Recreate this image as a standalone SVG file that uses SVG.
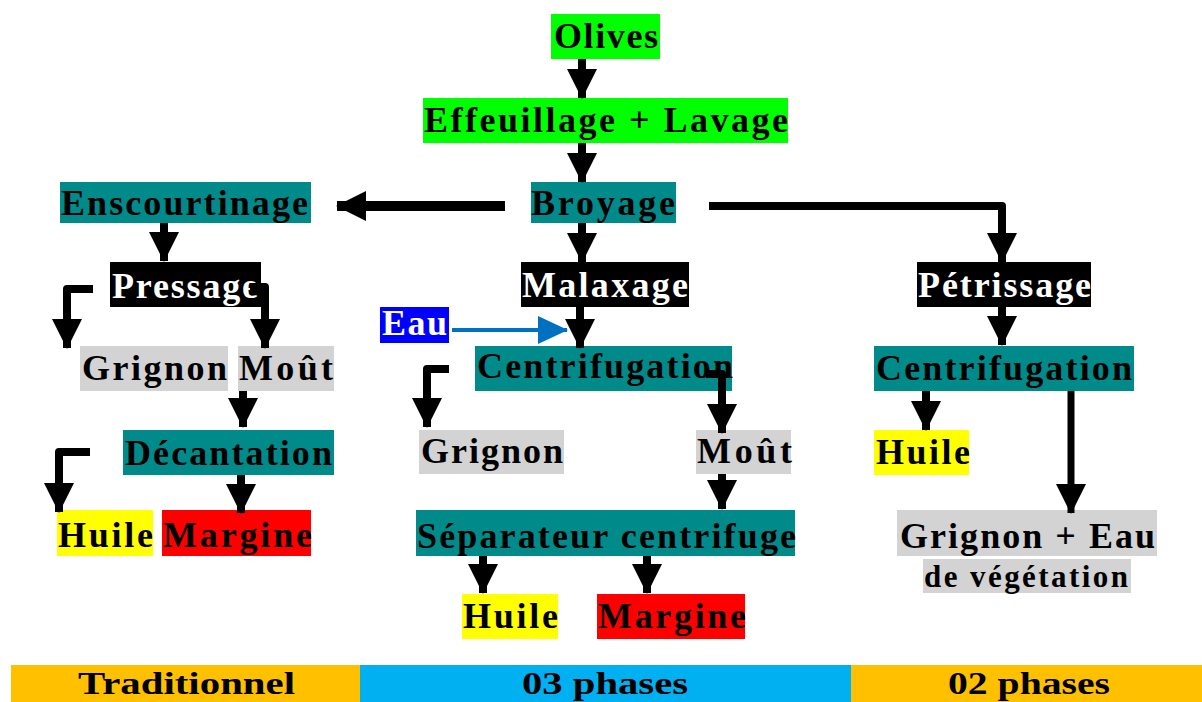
<svg xmlns="http://www.w3.org/2000/svg" width="1202" height="702" viewBox="0 0 1202 702">
<style>
text{font-family:"Liberation Serif","Times New Roman",serif;font-weight:bold;font-size:36px;fill:#000}
.w{fill:#fff}
.sm{font-size:31px}
.bar{font-size:32px}
.green{fill:#00ff00}.teal{fill:#008b8a}.blk{fill:#000}.grey{fill:#d3d3d3}.yel{fill:#ffff00}.red{fill:#ff0000}.blue{fill:#0000ff}
.c{fill:none;stroke:#000;stroke-width:8;stroke-linejoin:round}
</style>
<defs>
<marker id="ah" markerUnits="userSpaceOnUse" viewBox="0 0 30 30" markerWidth="30" markerHeight="30" refX="29" refY="15" orient="auto"><path d="M0,0 L30,15 L0,30 z" fill="#000"/></marker>
<marker id="ahb" markerUnits="userSpaceOnUse" viewBox="0 0 30 30" markerWidth="30" markerHeight="30" refX="29" refY="15" orient="auto"><path d="M0,1 L30,15 L0,29 z" fill="#0070c0"/></marker>
</defs>
<rect width="1202" height="702" fill="#fff"/>
<g id="nodes">
<g id="olives"><rect class="green" x="551" y="14" width="109" height="45"/><text x="554" y="48" textLength="104" lengthAdjust="spacing">Olives</text></g>
<g id="effeuillage"><rect class="green" x="423" y="98" width="365" height="45"/><text x="424" y="132" textLength="364" lengthAdjust="spacing">Effeuillage + Lavage</text></g>
<g id="broyage"><rect class="teal" x="531" y="182" width="145" height="41"/><text x="531" y="215" textLength="144" lengthAdjust="spacing">Broyage</text></g>
<g id="enscourtinage"><rect class="teal" x="60" y="182" width="251" height="41"/><text x="61" y="215" textLength="247" lengthAdjust="spacing">Enscourtinage</text></g>
<g id="pressage"><rect class="blk" x="110" y="262" width="151" height="45"/><text class="w" x="112" y="298" textLength="146" lengthAdjust="spacing">Pressage</text></g>
<g id="grignon1"><rect class="grey" x="80" y="346" width="148" height="45"/><text x="82" y="380" textLength="145" lengthAdjust="spacing">Grignon</text></g>
<g id="mout1"><rect class="grey" x="238" y="346" width="96" height="45"/><text x="239" y="380" textLength="94" lengthAdjust="spacing">Moût</text></g>
<g id="decantation"><rect class="teal" x="123" y="430" width="211" height="45"/><text x="125" y="465" textLength="207" lengthAdjust="spacing">Décantation</text></g>
<g id="huile1"><rect class="yel" x="57" y="510" width="96" height="46"/><text x="58" y="547" textLength="95" lengthAdjust="spacing">Huile</text></g>
<g id="margine1"><rect class="red" x="162" y="510" width="149" height="46"/><text x="163" y="547" textLength="149" lengthAdjust="spacing">Margine</text></g>
<g id="malaxage"><rect class="blk" x="521" y="262" width="168" height="45"/><text class="w" x="522" y="297" textLength="166" lengthAdjust="spacing">Malaxage</text></g>
<g id="eau"><rect class="blue" x="380" y="307" width="69" height="36"/><text class="w" x="382" y="335" textLength="65" lengthAdjust="spacing">Eau</text></g>
<g id="centrifugation2"><rect class="teal" x="475" y="346" width="257" height="45"/><text x="477" y="378" textLength="256" lengthAdjust="spacing">Centrifugation</text></g>
<g id="grignon2"><rect class="grey" x="419" y="430" width="145" height="44"/><text x="421" y="463" textLength="142" lengthAdjust="spacing">Grignon</text></g>
<g id="mout2"><rect class="grey" x="696" y="430" width="95" height="44"/><text x="697" y="463" textLength="95" lengthAdjust="spacing">Moût</text></g>
<g id="separateur"><rect class="teal" x="416" y="510" width="379" height="46"/><text x="417" y="548" textLength="379" lengthAdjust="spacing">Séparateur centrifuge</text></g>
<g id="huile2"><rect class="yel" x="462" y="594" width="96" height="45"/><text x="463" y="628" textLength="95" lengthAdjust="spacing">Huile</text></g>
<g id="margine2"><rect class="red" x="597" y="594" width="148" height="45"/><text x="598" y="628" textLength="148" lengthAdjust="spacing">Margine</text></g>
<g id="petrissage"><rect class="blk" x="917" y="262" width="174" height="45"/><text class="w" x="918" y="297" textLength="173" lengthAdjust="spacing">Pétrissage</text></g>
<g id="centrifugation3"><rect class="teal" x="874" y="346" width="260" height="45"/><text x="876" y="380" textLength="256" lengthAdjust="spacing">Centrifugation</text></g>
<g id="huile3"><rect class="yel" x="874" y="430" width="95" height="45"/><text x="876" y="464" textLength="94" lengthAdjust="spacing">Huile</text></g>
<g id="grignoneau"><rect class="grey" x="897" y="510" width="260" height="46"/><text x="900" y="548" textLength="255" lengthAdjust="spacing">Grignon + Eau</text><rect class="grey" x="923" y="559" width="208" height="34"/><text class="sm" x="924" y="587" textLength="204" lengthAdjust="spacing">de végétation</text></g>
<g id="legend">
<rect x="11" y="665" width="349" height="37" fill="#ffc000"/><text class="bar" x="78" y="694" textLength="217" lengthAdjust="spacingAndGlyphs">Traditionnel</text>
<rect x="360" y="665" width="491" height="37" fill="#00b0f0"/><text class="bar" x="522" y="694" textLength="166" lengthAdjust="spacingAndGlyphs">03 phases</text>
<rect x="851" y="665" width="351" height="37" fill="#ffc000"/><text class="bar" x="948" y="694" textLength="162" lengthAdjust="spacingAndGlyphs">02 phases</text>
</g>
</g>
<g id="connectors">
<path class="c" d="M582,59 V98" marker-end="url(#ah)"/>
<path class="c" d="M582,143 V182" marker-end="url(#ah)"/>
<path class="c" d="M582,223 V262" marker-end="url(#ah)"/>
<path class="c" d="M580,307 V348" marker-end="url(#ah)"/>
<path class="c" style="stroke-width:10" d="M505,206 H337" marker-end="url(#ah)"/>
<path class="c" d="M709,206 H1002 V262" marker-end="url(#ah)"/>
<path class="c" d="M164,223 V261" marker-end="url(#ah)"/>
<path class="c" d="M93,289 H67 V348" marker-end="url(#ah)"/>
<path class="c" d="M250,287 H265 V348" marker-end="url(#ah)"/>
<path class="c" d="M243,391 V427" marker-end="url(#ah)"/>
<path class="c" d="M90,452 H59 V512" marker-end="url(#ah)"/>
<path class="c" d="M241,475 V513" marker-end="url(#ah)"/>
<path d="M452,330 H567" fill="none" stroke="#0070c0" stroke-width="4" marker-end="url(#ahb)"/>
<path class="c" d="M449,369 H427 V427" marker-end="url(#ah)"/>
<path class="c" d="M706,374 H722 V433" marker-end="url(#ah)"/>
<path class="c" d="M722,474 V509" marker-end="url(#ah)"/>
<path class="c" d="M483,556 V593" marker-end="url(#ah)"/>
<path class="c" d="M647,556 V593" marker-end="url(#ah)"/>
<path class="c" d="M1002,307 V345" marker-end="url(#ah)"/>
<path class="c" d="M926,391 V430" marker-end="url(#ah)"/>
<path class="c" style="stroke-width:7" d="M1071,391 V513" marker-end="url(#ah)"/>
</g>
</svg>
